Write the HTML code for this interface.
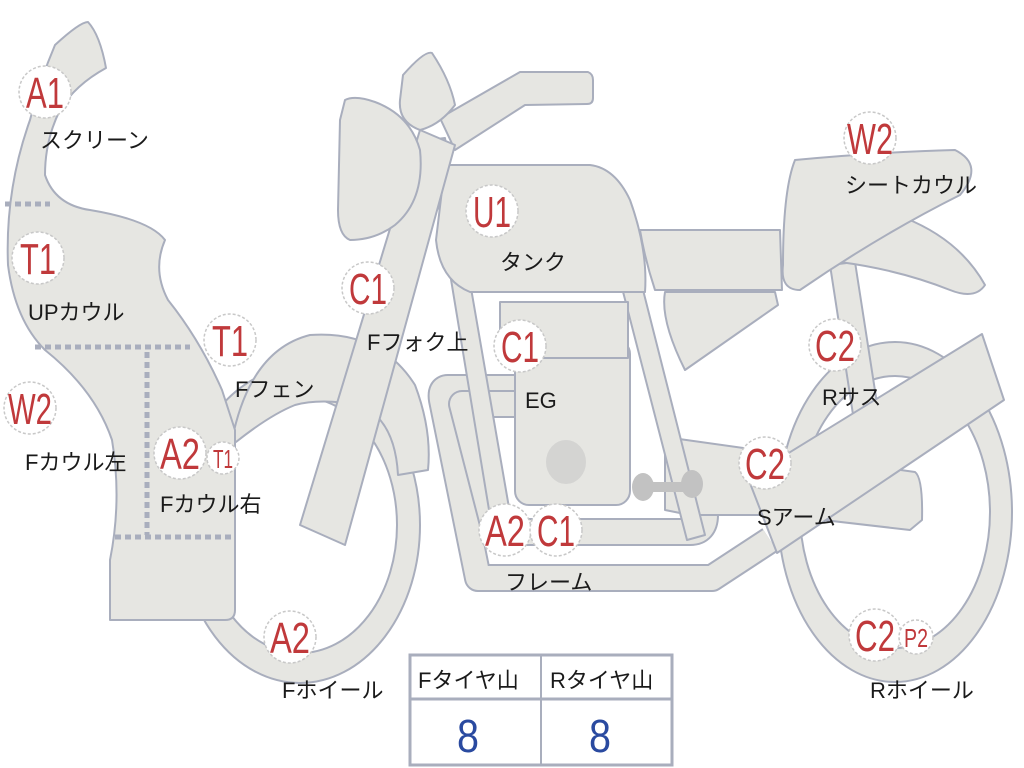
<!DOCTYPE html>
<html><head><meta charset="utf-8"><style>
html,body{margin:0;padding:0;background:#fff;width:1024px;height:768px;overflow:hidden}
svg{display:block}
.s{fill:#e6e6e2;stroke:#a9aebd;stroke-width:2;stroke-linejoin:round}
.c{fill:#fff;stroke:#c8c8c8;stroke-width:1.5;stroke-dasharray:3 2}
.r{fill:#c0393b;font-family:"Liberation Sans Narrow","Liberation Sans",sans-serif;font-size:44px;text-anchor:middle}
.q{fill:#c0393b;font-family:"Liberation Sans Narrow","Liberation Sans",sans-serif;font-size:26px;text-anchor:middle}
.l{fill:#1a1a1a;font-family:"Liberation Sans","Noto Sans CJK JP",sans-serif;font-size:22px}
.d{stroke:#a9aebd;stroke-width:5;stroke-dasharray:6 4;fill:none}
.po{fill:none;stroke:#a9aebd;stroke-width:28;stroke-linejoin:round;stroke-linecap:butt}
.pi{fill:none;stroke:#e6e6e2;stroke-width:24;stroke-linejoin:round;stroke-linecap:butt}
</style></head><body>
<svg width="1024" height="768" viewBox="0 0 1024 768">
<!-- rear wheel -->
<ellipse cx="895" cy="512" rx="117" ry="170" class="s"/>
<ellipse cx="895" cy="512" rx="95" ry="136" fill="#fff" stroke="#a9aebd" stroke-width="2"/>
<!-- rear shock -->
<polygon points="830,265 855,262 885,455 860,460" class="s"/>
<!-- rear fender piece -->
<path d="M905,218 Q960,240 985,285 Q975,300 950,290 Q900,270 840,262 Z" class="s"/>
<!-- seat cowl -->
<path d="M795,160 Q880,152 955,150 Q985,165 960,195 Q880,235 800,290 Q780,290 783,265 Q783,190 795,160 Z" class="s"/>
<!-- seat -->
<path d="M640,230 L780,230 L782,290 L655,290 Q645,260 640,230 Z" class="s"/>
<path d="M665,292 L775,292 L778,305 L685,370 Q660,320 665,292 Z" class="s"/>
<!-- front wheel -->
<ellipse cx="300" cy="525" rx="120" ry="158" class="s"/>
<ellipse cx="300" cy="525" rx="97" ry="128" fill="#fff" stroke="#a9aebd" stroke-width="2"/>
<!-- front fender -->
<path d="M232,440 Q250,350 310,335 Q380,330 415,385 Q432,430 428,470 L398,475 Q395,420 360,405 Q320,398 295,405 Q270,415 236,442 Z" class="s"/>
<!-- exhaust pipes -->
<path d="M515,388 L448,388 Q440,388 442,400 L478,578 L712,578 L770,540" class="po"/>
<path d="M515,388 L448,388 Q440,388 442,400 L478,578 L712,578 L770,540" class="pi"/>
<path d="M515,404 L462,404 L495,532 L690,532 Q705,532 705,515" class="po"/>
<path d="M515,404 L462,404 L495,532 L690,532 Q705,532 705,515" class="pi"/>
<!-- chain guard -->
<path d="M665,437 L915,472 Q923,478 922,520 L910,530 L780,515 L690,515 L665,510 Z" class="s"/>
<!-- frame rails -->
<polygon points="428,140 445,138 512,525 492,528" class="s"/>
<polygon points="620,280 640,278 705,535 687,540" class="s"/>
<!-- engine -->
<rect x="515" y="340" width="115" height="165" rx="14" class="s"/>
<rect x="500" y="302" width="128" height="56" class="s"/>
<ellipse cx="566" cy="462" rx="20" ry="22" fill="#d4d4d2"/>
<rect x="635" y="482" width="60" height="10" fill="#c2c2c2"/>
<ellipse cx="643" cy="487" rx="11" ry="14" fill="#c2c2c2"/><ellipse cx="692" cy="484" rx="11" ry="14" fill="#c2c2c2"/>
<!-- swing arm -->
<polygon points="748,478 982,334 1004,400 777,553" class="s"/>
<!-- tank -->
<path d="M445,165 L590,165 Q615,168 630,200 Q648,250 645,292 L470,292 Q440,280 436,240 Z" class="s"/>
<!-- handlebar -->
<path d="M440,118 L520,72 L588,72 Q593,74 593,80 L593,98 Q593,104 587,104 L525,105 L455,150 Z" class="s"/>
<!-- fork -->
<polygon points="420,130 455,145 345,545 300,525" class="s"/>
<!-- headlight -->
<path d="M345,100 Q355,95 375,102 Q410,115 420,150 Q425,200 395,225 Q375,240 350,240 Q338,235 338,210 L340,120 Z" class="s"/>
<!-- meter -->
<path d="M403,75 Q425,50 432,53 Q450,80 455,105 Q440,125 420,130 Q398,122 400,100 Z" class="s"/>
<!-- cowl -->
<path d="M55,45 Q80,22 88,22 Q100,35 106,68 Q75,85 60,110 Q45,140 45,175 Q55,205 90,210 Q150,220 165,240 Q152,270 168,300 Q200,340 222,390 L235,430 L235,610 Q235,620 225,620 L110,620 L110,560 Q122,500 112,440 Q95,390 45,350 Q15,320 8,265 Q5,190 30,120 Q40,80 55,45 Z" class="s"/>
<!-- dotted lines -->
<line x1="5" y1="204" x2="50" y2="204" class="d"/>
<line x1="35" y1="347" x2="190" y2="347" class="d"/>
<line x1="147" y1="352" x2="147" y2="535" class="d"/>
<line x1="115" y1="537" x2="235" y2="537" class="d"/>
<!-- badges -->
<g>
<circle cx="45" cy="92" r="26" class="c"/><text x="45" y="108" class="r" textLength="38" lengthAdjust="spacingAndGlyphs">A1</text>
<circle cx="38" cy="258" r="26" class="c"/><text x="38" y="274" class="r" textLength="36" lengthAdjust="spacingAndGlyphs">T1</text>
<circle cx="30" cy="408" r="26" class="c"/><text x="30" y="424" class="r" textLength="44" lengthAdjust="spacingAndGlyphs">W2</text>
<circle cx="230" cy="340" r="26" class="c"/><text x="230" y="356" class="r" textLength="36" lengthAdjust="spacingAndGlyphs">T1</text>
<circle cx="180" cy="453" r="26" class="c"/><text x="180" y="469" class="r" textLength="40" lengthAdjust="spacingAndGlyphs">A2</text>
<circle cx="223" cy="458" r="16" class="c"/><text x="223" y="468" class="q" textLength="20" lengthAdjust="spacingAndGlyphs">T1</text>
<circle cx="290" cy="637" r="26" class="c"/><text x="290" y="653" class="r" textLength="40" lengthAdjust="spacingAndGlyphs">A2</text>
<circle cx="368" cy="288" r="26" class="c"/><text x="368" y="304" class="r" textLength="38" lengthAdjust="spacingAndGlyphs">C1</text>
<circle cx="492" cy="211" r="26" class="c"/><text x="492" y="227" class="r" textLength="38" lengthAdjust="spacingAndGlyphs">U1</text>
<circle cx="520" cy="346" r="26" class="c"/><text x="520" y="362" class="r" textLength="38" lengthAdjust="spacingAndGlyphs">C1</text>
<circle cx="505" cy="530" r="26" class="c"/><text x="505" y="546" class="r" textLength="40" lengthAdjust="spacingAndGlyphs">A2</text>
<circle cx="556" cy="530" r="26" class="c"/><text x="556" y="546" class="r" textLength="38" lengthAdjust="spacingAndGlyphs">C1</text>
<circle cx="765" cy="463" r="26" class="c"/><text x="765" y="479" class="r" textLength="40" lengthAdjust="spacingAndGlyphs">C2</text>
<circle cx="870" cy="138" r="26" class="c"/><text x="870" y="154" class="r" textLength="46" lengthAdjust="spacingAndGlyphs">W2</text>
<circle cx="835" cy="345" r="26" class="c"/><text x="835" y="361" class="r" textLength="40" lengthAdjust="spacingAndGlyphs">C2</text>
<circle cx="875" cy="635" r="26" class="c"/><text x="875" y="651" class="r" textLength="40" lengthAdjust="spacingAndGlyphs">C2</text>
<circle cx="916" cy="637" r="17" class="c"/><text x="916" y="647" class="q" textLength="24" lengthAdjust="spacingAndGlyphs">P2</text>
</g>
<g>
<text x="40" y="148" class="l">スクリーン</text>
<text x="28" y="320" class="l">UPカウル</text>
<text x="25" y="470" class="l">Fカウル左</text>
<text x="160" y="512" class="l">Fカウル右</text>
<text x="235" y="397" class="l">Fフェン</text>
<text x="367" y="350" class="l">Fフォク上</text>
<text x="500" y="270" class="l">タンク</text>
<text x="525" y="408" class="l">EG</text>
<text x="505" y="590" class="l">フレーム</text>
<text x="757" y="525" class="l">Sアーム</text>
<text x="822" y="405" class="l">Rサス</text>
<text x="845" y="193" class="l">シートカウル</text>
<text x="282" y="698" class="l">Fホイール</text>
<text x="870" y="698" class="l">Rホイール</text>
</g>
<!-- table -->
<rect x="410" y="655" width="262" height="110" fill="#fff" stroke="#a9aebd" stroke-width="3"/>
<line x1="410" y1="699" x2="672" y2="699" stroke="#a9aebd" stroke-width="3"/>
<line x1="541" y1="655" x2="541" y2="765" stroke="#a9aebd" stroke-width="2"/>
<text x="418" y="688" class="l">Fタイヤ山</text>
<text x="550" y="688" class="l">Rタイヤ山</text>
<text x="468" y="752" fill="#2a4aa0" font-family="Liberation Sans Narrow,Liberation Sans,sans-serif" font-size="46" text-anchor="middle" textLength="22" lengthAdjust="spacingAndGlyphs">8</text>
<text x="600" y="752" fill="#2a4aa0" font-family="Liberation Sans Narrow,Liberation Sans,sans-serif" font-size="46" text-anchor="middle" textLength="22" lengthAdjust="spacingAndGlyphs">8</text>
</svg>
</body></html>
